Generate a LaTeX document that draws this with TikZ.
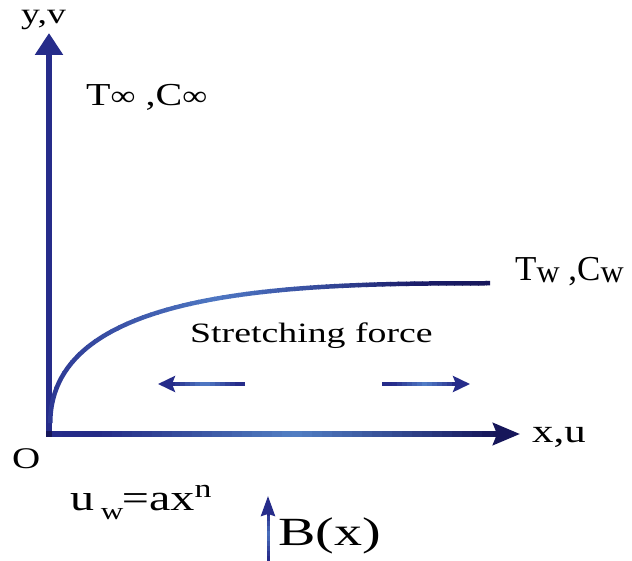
\documentclass[tikz,border=0pt]{standalone}
\usepackage{fontspec}
\setmainfont{Liberation Serif}
\usepackage{graphicx}
\usetikzlibrary{arrows.meta}
\definecolor{navy}{RGB}{38,44,138}
\definecolor{darknavy}{RGB}{22,22,90}
\definecolor{lightb}{RGB}{100,160,225}
\begin{document}
\begin{tikzpicture}[x=1pt,y=-1pt,
  lbl/.style={inner sep=0pt, anchor=base west, text=black},
  axis/.style={line width=5.5pt},
  force/.style={navy, line width=4pt, -{Stealth[width=16pt,length=17pt,inset=3pt]}}]
\useasboundingbox (0,0) rectangle (632,561);
% coordinates
\coordinate (orig) at (49,434);
\coordinate (ybot) at (49,436.75);
\coordinate (ytip) at (49,33);
\coordinate (xleft) at (46.25,434);
\coordinate (xtip) at (520,434);
% axes
\draw[axis, navy, -{Triangle[width=27pt,length=22pt]}] (ybot) -- (ytip);
\draw[axis, darknavy, -{Stealth[width=22pt,length=27pt,inset=4pt]}] (xleft) -- (xtip);
% gradient on x-axis shaft
\foreach \i in {0,...,43} {
  \pgfmathsetmacro\xa{52+10*\i}
  \pgfmathtruncatemacro\p{max(0,75*(1-abs((\i+0.5)/44-0.55)*2.2))}
  \pgfmathtruncatemacro\q{100-100*(\i/43)}
  \colorlet{basec}{navy!\q!darknavy}
  \fill[lightb!\p!basec] (\xa,431.25) rectangle ({\xa+10.6},436.75);
}
% curve (band with gradient stripes)
\begin{scope}
\clip (48,423) .. controls (48,284) and (301,281) .. (490,281)
  -- (490,285.5) .. controls (305,285.5) and (52.5,288) .. (52.5,423) -- cycle;
\foreach \i in {0,...,55} {
  \pgfmathsetmacro\xa{46+8*\i}
  \pgfmathtruncatemacro\p{max(0,65*(1-abs(\xa+4-215)/200))}
  \pgfmathtruncatemacro\q{max(0,min(100,100-(\xa-250)/2.4))}
  \colorlet{basec}{navy!\q!darknavy}
  \fill[lightb!\p!basec] (\xa,270) rectangle ({\xa+8.6},430);
}
\end{scope}
% stretching arrows
\coordinate (la1) at (245,384);
\coordinate (la2) at (158,384);
\coordinate (ra1) at (382,384);
\coordinate (ra2) at (470,384);
\draw[force] (la1) -- (la2);
\draw[force] (ra1) -- (ra2);
\foreach \i in {0,...,13} {
  \pgfmathsetmacro\xa{175+5*\i}
  \pgfmathtruncatemacro\p{max(0,70*(1-abs(\xa+2.5-205)/32))}
  \fill[lightb!\p!navy] (\xa,382) rectangle ({\xa+5.4},386);
  \pgfmathsetmacro\xb{382+5*\i}
  \pgfmathtruncatemacro\r{max(0,70*(1-abs(\xb+2.5-425)/32))}
  \fill[lightb!\r!navy] (\xb,382) rectangle ({\xb+5.4},386);
}
% B(x) arrow
\coordinate (b1) at (268,560);
\coordinate (b2) at (268,496);
\draw[navy, line width=3pt, -{Stealth[width=14pt,length=20pt,inset=2pt]}] (b1) -- (b2);
\foreach \i in {0,...,8} {
  \pgfmathsetmacro\ya{516+5*\i}
  \pgfmathtruncatemacro\p{max(0,60*(1-abs(\ya+2.5-535)/22))}
  \fill[lightb!\p!navy] (266.5,\ya) rectangle (269.5,{\ya+5.4});
}
% labels
\node[lbl] (yv) at (21,24) {\scalebox{1.3}[1]{\fontsize{29}{29}\selectfont y,v}};
\node[lbl] (tinf) at (86,106) {\scalebox{1.25}[1]{\fontsize{32}{32}\selectfont T{\fontsize{28}{28}\selectfont ∞} ,C{\fontsize{28}{28}\selectfont ∞}}};
\node[lbl] (tw) at (515,281) {\fontsize{35}{35}\selectfont T\raisebox{-1.5pt}{\fontsize{32}{32}\selectfont w} ,C\raisebox{-1.5pt}{\fontsize{32}{32}\selectfont w}};
\node[lbl] (sf) at (190,342) {\scalebox{1.35}[1]{\fontsize{28}{28}\selectfont Stretching force}};
\node[lbl] (xu) at (532,442) {\scalebox{1.3}[1]{\fontsize{33}{33}\selectfont x,u}};
\node[lbl] (olab) at (12,468) {\scalebox{1.3}[1]{\fontsize{30}{30}\selectfont O}};
\node[lbl] (uw) at (70,510) {\scalebox{1.3}[1]{\fontsize{37}{37}\selectfont u\kern5pt\raisebox{-9pt}{\fontsize{24}{24}\selectfont w}\kern-1pt=ax\raisebox{13pt}{\fontsize{26}{26}\selectfont n}}};
\node[lbl] (bx) at (278,545) {\scalebox{1.4}[1]{\fontsize{40}{40}\selectfont B(x)}};
\end{tikzpicture}
\end{document}
